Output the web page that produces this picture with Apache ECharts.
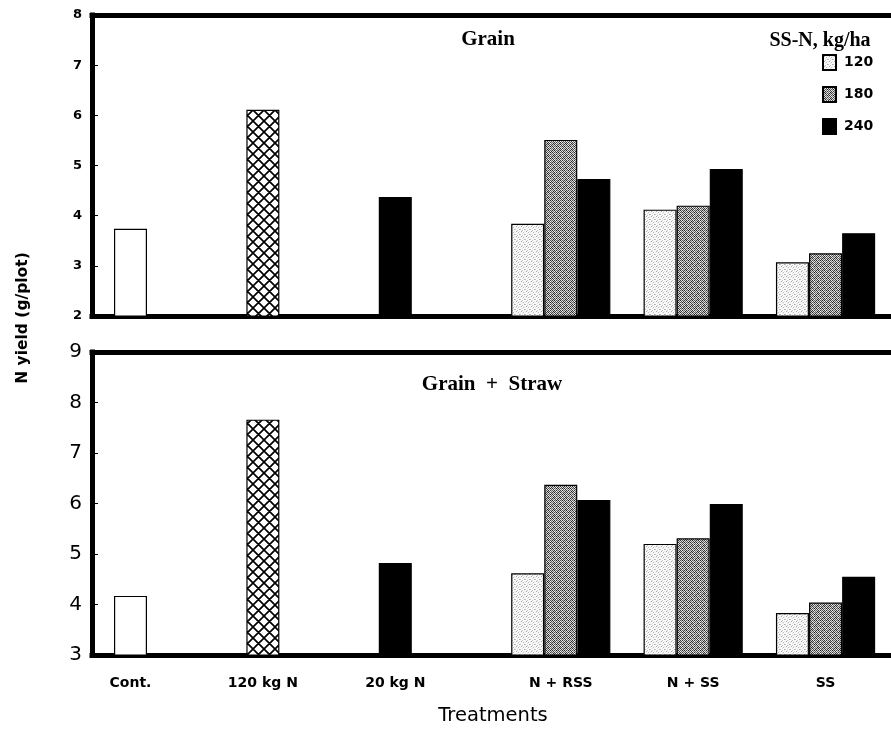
<!DOCTYPE html>
<html><head><meta charset="utf-8">
<script src="https://cdn.jsdelivr.net/npm/echarts@6/dist/echarts.min.js"></script>
<style>html,body{margin:0;padding:0;background:#fff;overflow:hidden}#c{width:891px;height:730px}</style>
</head><body><div id="c"></div>
<script>
// ---- data ----
const categories = ['Cont.', '120 kg N', '20 kg N', 'N + RSS', 'N + SS', 'SS'];
const singleTreatments = ['Cont.', '120 kg N', '20 kg N'];
const ssTreatments = ['N + RSS', 'N + SS', 'SS'];
const ssRates = ['120', '180', '240'];
const grainSingle = [3.74, 6.11, 4.37];
const grain120 = [3.84, 4.12, 3.07];
const grain180 = [5.51, 4.20, 3.25];
const grain240 = [4.73, 4.93, 3.65];
const totalSingle = [4.17, 7.66, 4.82];
const total120 = [4.62, 5.20, 3.83];
const total180 = [6.37, 5.31, 4.04];
const total240 = [6.07, 5.99, 4.55];
const grainTickRange = [2, 8];
const totalTickRange = [3, 9];

// ---- layout (slot positions on the x scale) ----
const catSlot = {'Cont.': 1, '120 kg N': 5, '20 kg N': 9, 'N + RSS': 14, 'N + SS': 18, 'SS': 22};
const rateOffset = {'120': -1, '180': 0, '240': 1};

function makeCanvas(w, h, draw) {
  const c = document.createElement('canvas'); c.width = w; c.height = h;
  draw(c.getContext('2d')); return c;
}
function pixelTile(m) {
  return makeCanvas(m[0].length, m.length, ctx => {
    m.forEach((row, y) => row.forEach((g, x) => { ctx.fillStyle = 'rgb(' + g + ',' + g + ',' + g + ')'; ctx.fillRect(x, y, 1, 1); }));
  });
}
const P = 11;
const hatchCanvas = makeCanvas(P, P, ctx => {
  ctx.fillStyle = '#fff'; ctx.fillRect(0, 0, P, P);
  ctx.strokeStyle = '#000'; ctx.lineWidth = 1.7; ctx.beginPath();
  [-P, 0, P].forEach(o => { ctx.moveTo(o, 0); ctx.lineTo(o + P, P); ctx.moveTo(o + P, 0); ctx.lineTo(o, P); });
  ctx.stroke();
});
const dense = pixelTile([
  [60, 200, 40, 220, 90, 190],
  [210, 110, 230, 70, 240, 50],
  [40, 220, 80, 200, 30, 210],
  [230, 60, 240, 120, 220, 90],
  [100, 210, 50, 230, 60, 200],
  [220, 40, 190, 70, 240, 110]
]);
const light = pixelTile([
  [250, 250, 195, 250, 250],
  [250, 165, 250, 250, 230],
  [235, 250, 250, 185, 250],
  [250, 250, 225, 250, 250],
  [195, 250, 250, 250, 170]
]);
const pat = (c) => ({image: c, repeat: 'repeat'});
const rateFill = {'120': pat(light), '180': pat(dense), '240': '#000'};
const singleFill = {'Cont.': '#fff', '120 kg N': pat(hatchCanvas), '20 kg N': '#000'};

const chart = echarts.init(document.getElementById('c'), null, {renderer: 'canvas'});

const grids = [
  {left: 92, right: -12, top: 15, bottom: 414},
  {left: 92, right: -12, top: 352, bottom: 75}
];

const serif = '"Liberation Serif", "Times New Roman", serif';
const sans = '"DejaVu Sans", Verdana, sans-serif';
const X_MIN = -0.163, X_MAX = 24.34;
const frameLine = {show: true, onZero: false, lineStyle: {color: '#000', width: 5, cap: 'square'}};

function xAxis(gi, showLabels) {
  return {
    type: 'value', gridIndex: gi, position: 'bottom', min: X_MIN, max: X_MAX,
    axisLine: frameLine, splitLine: {show: false},
    axisTick: {show: false},
    axisLabel: showLabels ? {
      show: true, customValues: categories.map(c => catSlot[c]),
      formatter: v => categories.find(c => catSlot[c] === v) || '',
      margin: 21, color: '#000', fontSize: 14, fontWeight: 'bold',
      fontFamily: sans
    } : {show: false}
  };
}
function topFrame(gi) {
  return {type: 'value', gridIndex: gi, position: 'top', min: X_MIN, max: X_MAX,
    axisLine: frameLine, splitLine: {show: false}, axisTick: {show: false}, axisLabel: {show: false}};
}
function yAxis(gi, range, fs, fw) {
  return {
    type: 'value', gridIndex: gi, min: range[0], max: range[1], interval: 1,
    axisLine: frameLine, splitLine: {show: false},
    axisTick: {show: true, inside: true, length: 6, lineStyle: {color: '#000', width: 1}},
    axisLabel: {color: '#000', fontSize: fs, fontWeight: fw, margin: 10, fontFamily: sans}
  };
}

const barBase = {type: 'bar', barWidth: 33, barGap: '-100%', animation: false,
  itemStyle: {borderColor: '#000', borderWidth: 1.2}};

function panelSeries(gi, single, r120, r180, r240) {
  const s = [];
  s.push(Object.assign({}, barBase, {
    name: 'single' + gi, xAxisIndex: gi, yAxisIndex: gi,
    data: singleTreatments.map((t, i) => ({value: [catSlot[t], single[i]], itemStyle: {color: singleFill[t]}}))
  }));
  [['120', r120], ['180', r180], ['240', r240]].forEach(([rate, vals]) => {
    s.push(Object.assign({}, barBase, {
      name: rate, xAxisIndex: gi, yAxisIndex: gi,
      itemStyle: {color: rateFill[rate], borderColor: '#000', borderWidth: 1.2},
      data: ssTreatments.map((t, i) => [catSlot[t] + rateOffset[rate], vals[i]])
    }));
  });
  return s;
}

const txt = (x, y, text, font, extra) => Object.assign({type: 'text', x: x, y: y,
  style: {text: text, font: font, fill: '#000', align: 'center', verticalAlign: 'middle', textAlign: 'center', textVerticalAlign: 'middle'}}, extra || {});

chart.setOption({
  backgroundColor: '#fff',
  animation: false,
  grid: grids.map(g => Object.assign({show: false, outerBoundsMode: 'none', containLabel: false}, g)),
  xAxis: [xAxis(0, false), xAxis(1, true), topFrame(0), topFrame(1)],
  yAxis: [yAxis(0, grainTickRange, 13, 'bold'), yAxis(1, totalTickRange, 20, 'normal')],
  legend: {
    data: ssRates.map(r => ({name: r, icon: 'rect'})), orient: 'vertical', left: 817, top: 49,
    itemWidth: 13, itemHeight: 15, itemGap: 15, selectedMode: false,
    textStyle: {color: '#000', fontSize: 14, fontWeight: 'bold', fontFamily: sans, padding: [0, 0, 0, 3]}
  },
  graphic: [
    txt(488, 40, 'Grain', 'bold 21px ' + serif),
    txt(820, 41, 'SS-N, kg/ha', 'bold 20px ' + serif),
    txt(492, 385, 'Grain  +  Straw', 'bold 21px ' + serif),
    txt(493, 716, 'Treatments', '19.5px ' + sans),
    txt(23, 318, 'N yield (g/plot)', 'bold 15.5px ' + sans, {rotation: Math.PI / 2})
  ],
  series: panelSeries(0, grainSingle, grain120, grain180, grain240)
    .concat(panelSeries(1, totalSingle, total120, total180, total240))
});
</script></body></html>
